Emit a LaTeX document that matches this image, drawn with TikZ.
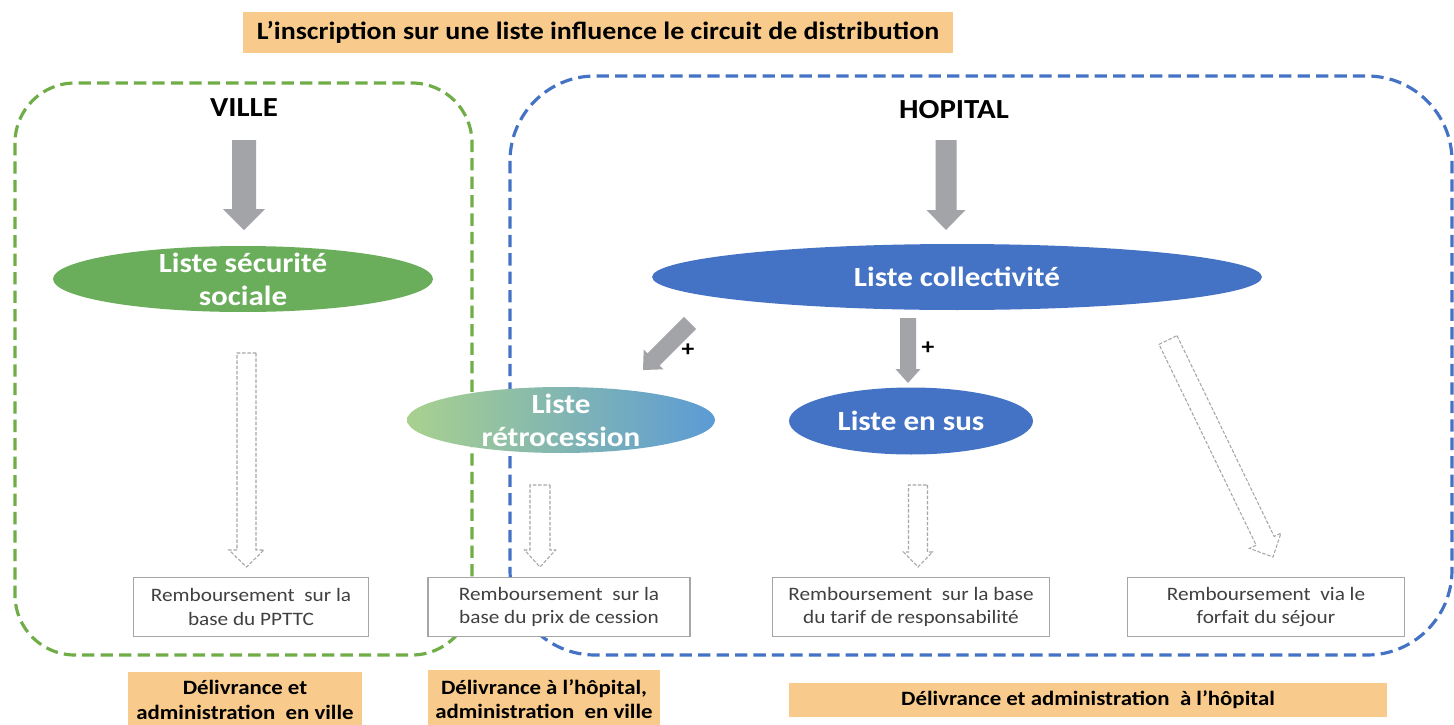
\documentclass[tikz,border=0pt]{standalone}
\usepackage{fontspec}
\setmainfont{Carlito}[FakeStretch=1.12]
\usetikzlibrary{calc,shapes.geometric}
\definecolor{orangebox}{HTML}{F8CB8D}
\definecolor{greenline}{HTML}{70AD47}
\definecolor{greenell}{HTML}{6AAD5A}
\definecolor{blueline}{HTML}{4472C4}
\definecolor{blueell}{HTML}{4472C4}
\definecolor{retroL}{HTML}{A9D18E}
\definecolor{retroR}{HTML}{5B9BD5}
\definecolor{arrowgray}{HTML}{A3A4A8}
\definecolor{boxline}{HTML}{A6A6A6}
\definecolor{boxtext}{HTML}{404040}
\newcommand\blockarrow[6]{%
  \coordinate (bah) at ($(#3)!#6!(#2)$);
  \path[#1] ($(#2)!#4!90:(#3)$) -- ($(bah)!#4!90:(#3)$) -- ($(bah)!#5!90:(#3)$)
    -- (#3) -- ($(bah)!#5!-90:(#3)$) -- ($(bah)!#4!-90:(#3)$) -- ($(#2)!#4!-90:(#3)$) -- cycle;}
\begin{document}
\begin{tikzpicture}[x=0.02cm,y=-0.02cm,
  zone/.style={line width=1.8pt, dash pattern=on 7pt off 3.5pt, rounded corners=#1},
  titlebox/.style={fill=orangebox, minimum width=14.2cm, minimum height=0.82cm, inner sep=0pt,
    font=\fontsize{14.2}{17}\selectfont\bfseries},
  zonetitle/.style={font=\fontsize{15.7}{18}\selectfont\bfseries},
  ellnode/.style={ellipse, inner sep=0pt, minimum height=1.32cm},
  elltext/.style={text=white, align=center, font=\fontsize{15.8}{18.8}\selectfont\bfseries},
  rembox/.style={draw=boxline, line width=0.8pt, fill=white, minimum height=1.18cm, inner sep=0pt,
    align=center, text=boxtext, font=\fontsize{10.8}{13.5}\selectfont},
  delivbox/.style={fill=orangebox, inner sep=0pt, align=center,
    font=\fontsize{11.6}{13.8}\selectfont\bfseries},
  grayarrow/.style={fill=arrowgray},
  hollowarrow/.style={draw=gray!70, fill=white, line width=0.6pt, dash pattern=on 2pt off 1pt},
  plus/.style={font=\fontsize{13}{15}\selectfont\bfseries}
]
\useasboundingbox[fill=white] (0,0) rectangle (1454,724);

% zones
\draw[zone=1.2cm, greenline] (15,83) rectangle (472,655);
\draw[zone=1.7cm, blueline] (510,76) rectangle (1452,655);

% title
\node[titlebox] (title) at (598,32.5) {L’inscription sur une liste influence le circuit de distribution};

% zone titles
\node[zonetitle] (ville) at (244,108) {VILLE};
\node[zonetitle] (hopital) at (954,110) {HOPITAL};

% ellipses
\node[ellnode, fill=greenell, minimum width=7.6cm] (secu) at (243,279) {};
\node[elltext] at (secu) {Liste sécurité\\sociale};
\node[ellnode, fill=blueell, minimum width=12.2cm] (coll) at (957,277) {};
\node[elltext] at (coll) {Liste collectivité};
\node[ellnode, left color=retroL, right color=retroR, minimum width=6.16cm] (retro) at (561,420) {};
\node[elltext] at (retro) {Liste\\rétrocession};
\node[ellnode, fill=blueell, minimum width=4.88cm, minimum height=1.34cm] (sus) at (911,421) {};
\node[elltext] at (sus) {Liste en sus};

% gray block arrows
\coordinate (va1) at (244,140); \coordinate (va2) at (244,230);
\blockarrow{grayarrow}{va1}{va2}{0.24cm}{0.42cm}{0.42cm}
\coordinate (ha1) at (946,140); \coordinate (ha2) at (946,230);
\blockarrow{grayarrow}{ha1}{ha2}{0.21cm}{0.39cm}{0.40cm}
\coordinate (sa1) at (908,318); \coordinate (sa2) at (908,383);
\blockarrow{grayarrow}{sa1}{sa2}{0.16cm}{0.25cm}{0.28cm}
\coordinate (ra1) at (690,323); \coordinate (ra2) at (643,370);
\blockarrow{grayarrow}{ra1}{ra2}{0.17cm}{0.28cm}{0.30cm}
\node[plus] (plusR) at (688,350) {+};
\node[plus] (plusS) at (928,348) {+};

% hollow dashed arrows
\coordinate (vh1) at (246.5,353); \coordinate (vh2) at (246.5,567);
\blockarrow{hollowarrow}{vh1}{vh2}{0.19cm}{0.35cm}{0.34cm}
\coordinate (rh1) at (540,485); \coordinate (rh2) at (540,567);
\blockarrow{hollowarrow}{rh1}{rh2}{0.20cm}{0.31cm}{0.34cm}
\coordinate (sh1) at (918,485); \coordinate (sh2) at (918,567);
\blockarrow{hollowarrow}{sh1}{sh2}{0.19cm}{0.29cm}{0.30cm}
\coordinate (fh1) at (1168,340); \coordinate (fh2) at (1273,557);
\blockarrow{hollowarrow}{fh1}{fh2}{0.20cm}{0.35cm}{0.36cm}

% reimbursement boxes
\node[rembox, minimum width=4.7cm] (b1) at (251,607) {Remboursement\ \ sur la\\base du PPTTC};
\node[rembox, minimum width=5.24cm] (b2) at (559,607) {Remboursement\ \ sur la\\base du prix de cession};
\node[rembox, minimum width=5.54cm] (b3) at (911,607) {Remboursement\ \ sur la base\\du tarif de responsabilité};
\node[rembox, minimum width=5.54cm] (b4) at (1266,607) {Remboursement\ \ via le\\forfait du séjour};

% delivery labels
\node[delivbox, minimum width=4.68cm, minimum height=1.12cm] (d1) at (245,700) {Délivrance et\\administration\ \ en ville};
\node[delivbox, minimum width=4.64cm, minimum height=1.16cm] (d2) at (544,699) {Délivrance à l’hôpital,\\administration\ \ en ville};
\node[delivbox, minimum width=11.96cm, minimum height=0.68cm] (d3) at (1088,700) {Délivrance et administration\ \ à l’hôpital};
\end{tikzpicture}
\end{document}
